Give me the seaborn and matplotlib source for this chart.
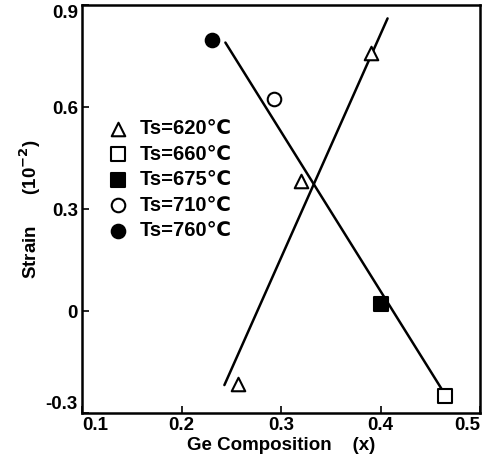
import matplotlib
matplotlib.use("Agg")
import matplotlib.pyplot as plt
import seaborn as sns
import pandas as pd

# ---- data ----
series_labels = ["Ts=620\u2103", "Ts=660\u2103", "Ts=675\u2103", "Ts=710\u2103", "Ts=760\u2103"]
x_620 = [0.320, 0.390, 0.257]
y_620 = [0.384, 0.759, -0.213]
x_660 = [0.465]
y_660 = [-0.250]
x_675 = [0.400]
y_675 = [0.020]
x_710 = [0.293]
y_710 = [0.624]
x_760 = [0.231]
y_760 = [0.798]

fit_dec_x = [0.244, 0.461]
fit_dec_y = [0.790, -0.227]
fit_inc_x = [0.243, 0.407]
fit_inc_y = [-0.217, 0.861]

x_ticks = [0.1, 0.2, 0.3, 0.4, 0.5]
y_ticks = [-0.3, 0, 0.3, 0.6, 0.9]
y_tick_labels = ["-0.3", "0", "0.3", "0.6", "0.9"]

# ---- style ----
sns.set_theme(style="ticks")
plt.rcParams["font.family"] = ["Liberation Sans", "DejaVu Sans"]
plt.rcParams["font.weight"] = "bold"
for k in ["text.color", "axes.labelcolor", "xtick.color", "ytick.color", "axes.edgecolor"]:
    plt.rcParams[k] = "black"

fig = plt.figure(figsize=(4.83, 4.67), dpi=100)
ax = fig.add_axes([0.170, 0.115, 0.824, 0.874])

# fit lines
sns.lineplot(x=fit_dec_x, y=fit_dec_y, ax=ax, color="black", lw=1.8, legend=False)
sns.lineplot(x=fit_inc_x, y=fit_inc_y, ax=ax, color="black", lw=1.8, legend=False)

specs = [
    (x_620, y_620, "^", "white"),
    (x_660, y_660, "s", "white"),
    (x_675, y_675, "s", "black"),
    (x_710, y_710, "o", "white"),
    (x_760, y_760, "o", "black"),
]
for (xs, ys, m, fc), lab in zip(specs, series_labels):
    sns.scatterplot(x=xs, y=ys, ax=ax, marker=m, s=95, facecolor=fc,
                    edgecolor="black", linewidth=1.5, label=lab, zorder=5)

ax.set_xlim(0.1, 0.5)
ax.set_ylim(-0.3, 0.89)
ax.set_xticks(x_ticks)
ax.set_xticklabels([f"{v:.1f}" for v in x_ticks])
ax.set_yticks(y_ticks)
ax.set_yticklabels(y_tick_labels)
ax.tick_params(direction="in", length=5, width=1.2, labelsize=13.5, pad=3,
               colors="black")
for lbl in ax.get_xticklabels() + ax.get_yticklabels():
    lbl.set_fontweight("bold")
xl = ax.get_xticklabels()
xl[0].set_horizontalalignment("left")
xl[-1].set_horizontalalignment("right")
yl = ax.get_yticklabels()
yl[0].set_verticalalignment("bottom")
yl[-1].set_verticalalignment("top")
for sp in ax.spines.values():
    sp.set_linewidth(1.8)
    sp.set_color("black")

ax.set_xlabel("Ge Composition    (x)", fontsize=13.5, fontweight="bold", labelpad=2)
ax.set_ylabel("Strain      (10$^{-2}$)", fontsize=13.5, fontweight="bold", labelpad=2)

leg = ax.legend(loc="upper left", bbox_to_anchor=(0.04, 0.74), frameon=False,
                fontsize=14.5, handletextpad=0.45, labelspacing=0.32, borderaxespad=0,
                handlelength=1.2)
for t in leg.get_texts():
    t.set_fontweight("bold")
    t.set_color("black")

fig.savefig("out.png", dpi=100)
